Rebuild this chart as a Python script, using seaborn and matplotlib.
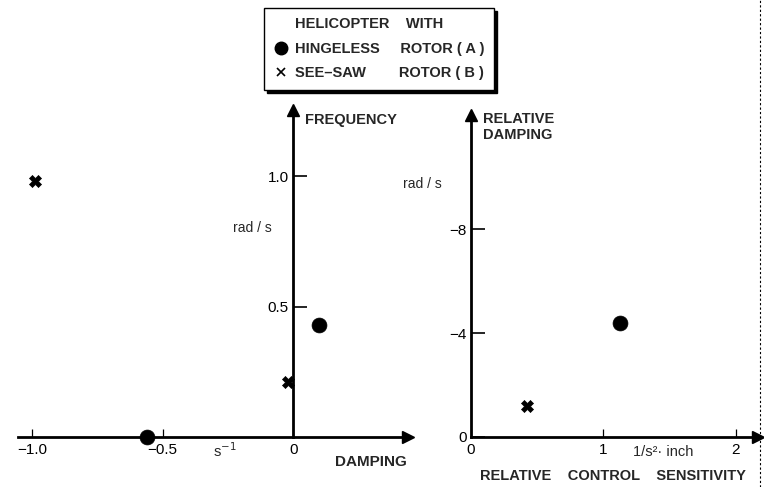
import matplotlib
matplotlib.use("Agg")
import matplotlib.pyplot as plt
from matplotlib.lines import Line2D
import seaborn as sns
import pandas as pd

# ---- data ----
left_rotor = ["B", "A", "B", "A"]
left_damping = [-0.99, 0.10, -0.02, -0.56]
left_frequency = [0.98, 0.43, 0.21, 0.0]

right_rotor = ["A", "B"]
right_sensitivity = [1.13, 0.42]
right_rel_damping = [-4.38, -1.19]

left_xticks = [-1.0, -0.5, 0.0]
left_xticklabels = ["\u22121.0", "\u22120.5", "0"]
left_yticks = [0.5, 1.0]
left_yticklabels = ["0.5", "1.0"]
right_xticks = [0, 1, 2]
right_xticklabels = ["0", "1", "2"]
right_yticks = [0, -4, -8]
right_yticklabels = ["0", "\u22124", "\u22128"]

legend_labels = ["HELICOPTER    WITH", "HINGELESS     ROTOR ( A )", "SEE\u2013SAW        ROTOR ( B )"]

sns.set_style("white")
plt.rcParams["font.family"] = ["Liberation Sans", "DejaVu Sans"]

W, H = 764, 487
fig = plt.figure(figsize=(W / 100, H / 100), dpi=100)


def rect(x0, x1, ytop, ybot):
    return [x0 / W, 1 - ybot / H, (x1 - x0) / W, (ybot - ytop) / H]


def ftext(x, y, s, **kw):
    fig.text(x / W, 1 - y / H, s, va="center", **kw)


markers = {"A": "o", "B": "X"}
sizes = {"A": 115, "B": 75}

# ---- left panel ----
axL = fig.add_axes(rect(18, 408, 110, 437))
dfL = pd.DataFrame({"damping": left_damping, "freq": left_frequency, "rotor": left_rotor})
for r in ["A", "B"]:
    sub = dfL[dfL.rotor == r]
    sns.scatterplot(data=sub, x="damping", y="freq", marker=markers[r], s=sizes[r],
                    color="black", edgecolor="black", linewidth=0.5, ax=axL,
                    legend=False, clip_on=False, zorder=5)
axL.set_xlim(-1.054, 0.44)
axL.set_ylim(0, 1.253)

# ---- right panel ----
axR = fig.add_axes(rect(471, 758, 115, 437))
dfR = pd.DataFrame({"sens": right_sensitivity, "rd": right_rel_damping, "rotor": right_rotor})
for r in ["A", "B"]:
    sub = dfR[dfR.rotor == r]
    sns.scatterplot(data=sub, x="sens", y="rd", marker=markers[r], s=sizes[r],
                    color="black", edgecolor="black", linewidth=0.5, ax=axR,
                    legend=False, clip_on=False, zorder=5)
axR.set_xlim(0, 2.17)
axR.set_ylim(0, -12.4)

for ax in (axL, axR):
    ax.set_facecolor("none")
    ax.set_xlabel("")
    ax.set_ylabel("")
    for s in ("top", "right"):
        ax.spines[s].set_visible(False)
    for s in ("left", "bottom"):
        ax.spines[s].set_linewidth(2.0)
        ax.spines[s].set_color("black")
    ax.tick_params(axis="x", direction="in", length=6, width=0.9, pad=4,
                   labelsize=11, colors="black", bottom=True)
    ax.tick_params(axis="y", direction="in", length=10, width=1.2, pad=3,
                   labelsize=11, colors="black", left=True)

axL.spines["left"].set_position(("data", 0))
axL.set_xticks(left_xticks, left_xticklabels)
axL.set_yticks(left_yticks, left_yticklabels)
axR.set_xticks(right_xticks, right_xticklabels)
axR.set_yticks(right_yticks, right_yticklabels)

# arrow heads
axL.plot(1, 0, ">k", ms=8, transform=axL.transAxes, clip_on=False)
axL.plot(0, 1, "^k", ms=8, transform=axL.get_xaxis_transform(), clip_on=False)
axR.plot(1, 0, ">k", ms=8, transform=axR.transAxes, clip_on=False)
axR.plot(0, 1, "^k", ms=8, transform=axR.transAxes, clip_on=False)

# ---- texts ----
ftext(305, 120, "FREQUENCY", fontsize=10.5, fontweight="bold")
ftext(483, 127, "RELATIVE\nDAMPING", fontsize=10.5, fontweight="bold", linespacing=1.15)
ftext(233, 228, "rad / s", fontsize=10)
ftext(403, 184, "rad / s", fontsize=10)
ftext(213, 451, "s$^{-1}$", fontsize=10.5)
ftext(335, 462, "DAMPING", fontsize=11, fontweight="bold")
ftext(633, 452, "1/s\u00b2\u00b7 inch", fontsize=10.5)
ftext(480, 476, "RELATIVE    CONTROL    SENSITIVITY", fontsize=10.5, fontweight="bold")

# scan edge line
fig.add_artist(Line2D([760 / W, 760 / W], [0, 1], color="black", lw=0.8, ls=(0, (2, 2)),
                      transform=fig.transFigure))

# ---- legend ----
handles = [
    Line2D([], [], linestyle="none"),
    Line2D([], [], linestyle="none", marker="o", color="black", markersize=9),
    Line2D([], [], linestyle="none", marker="x", color="black", markersize=6, markeredgewidth=1.2),
]
fig.legend(handles, legend_labels, loc="upper left",
           bbox_to_anchor=(264 / W, 1 - 8 / H), borderaxespad=0,
           prop={"family": "Liberation Sans", "weight": "bold", "size": 10.5},
           frameon=True, fancybox=False, edgecolor="black", framealpha=1,
           shadow={"color": "black", "alpha": 1},
           handlelength=1.0, handletextpad=0.5, borderpad=0.65, labelspacing=0.72)

fig.savefig("out.png", dpi=100)
